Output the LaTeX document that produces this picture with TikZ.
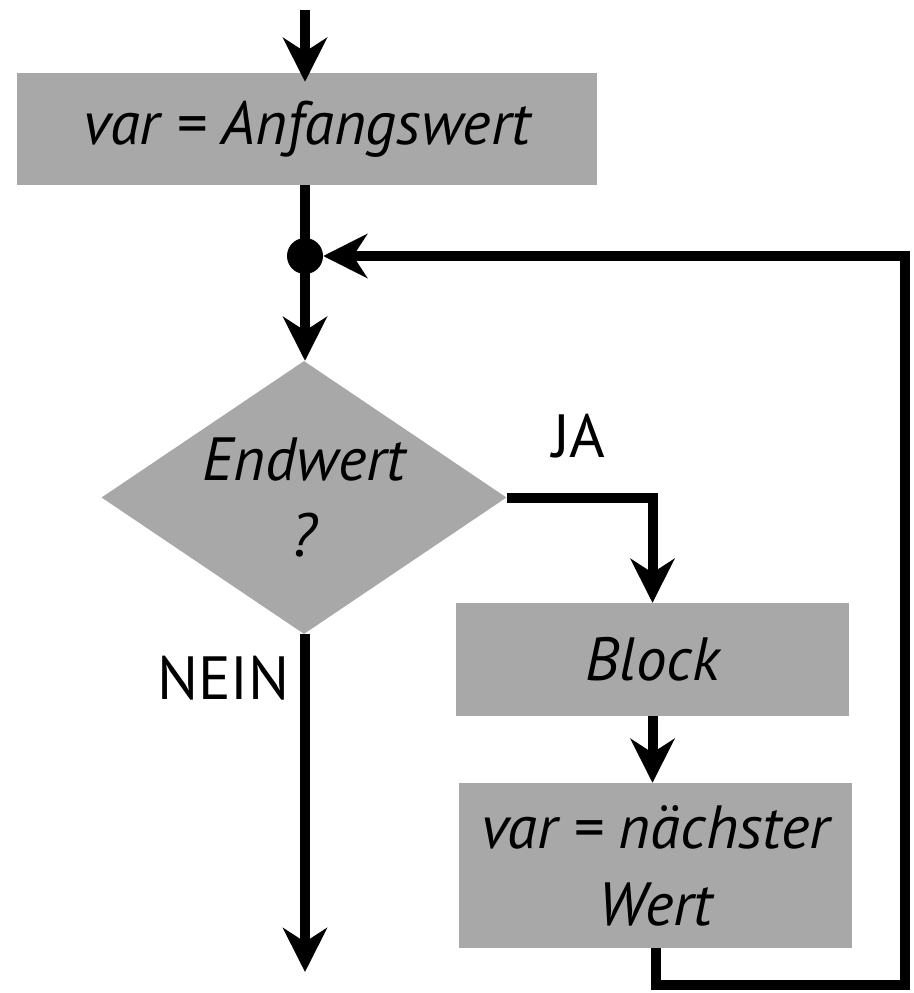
\documentclass[tikz,border=0pt]{standalone}
\usepackage{fontspec}
\setmainfont{PT Sans}
\usetikzlibrary{arrows.meta,shapes.geometric}
\definecolor{boxgray}{RGB}{168,168,168}
\begin{document}
\begin{tikzpicture}[x=1pt,y=-1pt,
  flow/.style={line width=10pt,draw=black},
  arr/.style={flow,-{Stealth[length=44pt,width=44pt,inset=14pt]}},
  labelfont/.style={font=\fontsize{61}{77}\selectfont},
  procbox/.style={fill=boxgray,draw=none,inner sep=0pt,align=center,
    labelfont,font=\fontsize{61}{77}\selectfont\itshape},
  decbox/.style={diamond,fill=boxgray,draw=none,inner sep=0pt,align=center,
    minimum width=405pt,minimum height=273pt,aspect=1.48,
    font=\fontsize{61}{76}\selectfont\itshape},
  dot/.style={circle,fill=black,inner sep=0pt,minimum size=36pt}]
\useasboundingbox (0,0) rectangle (913,993);

% nodes
\node[procbox,minimum width=580pt,minimum height=112pt] (init) at (307,129) {var = Anfangswert};
\node[dot] (jn) at (305,256) {};
\node[decbox] (test) at (304,497.5) {Endwert\\?};
\node[procbox,minimum width=393pt,minimum height=113pt] (blk) at (652.5,659.5) {Block};
\node[procbox,minimum width=393pt,minimum height=165pt] (nxt) at (655.5,865.5) {var = nächster\\Wert};

% branch labels
\node[labelfont,anchor=base west,inner sep=0pt] (ja) at (552,457) {JA};
\node[labelfont,anchor=base east,inner sep=0pt] (nein) at (290,699) {NEIN};

% free ends
\coordinate (entry) at (305,10);
\coordinate (exit) at (305,972);
\coordinate (rb) at (905,985);
\coordinate (rt) at (905,256);

% connectors
\draw[arr,shorten >=-9pt] (entry) -- (entry |- init.north);
\draw[flow] (init.south -| jn) -- (jn.center);
\draw[arr] (jn.center) -- (test.north -| jn);
\draw[arr] (test.east) -| (blk.north);
\draw[arr] (blk.south) -- (blk.south |- nxt.north);
\draw[arr] (nxt.south) |- (rb) -- (rt) -- (jn.east);
\draw[arr] (test.south -| exit) -- (exit);
\end{tikzpicture}
\end{document}
